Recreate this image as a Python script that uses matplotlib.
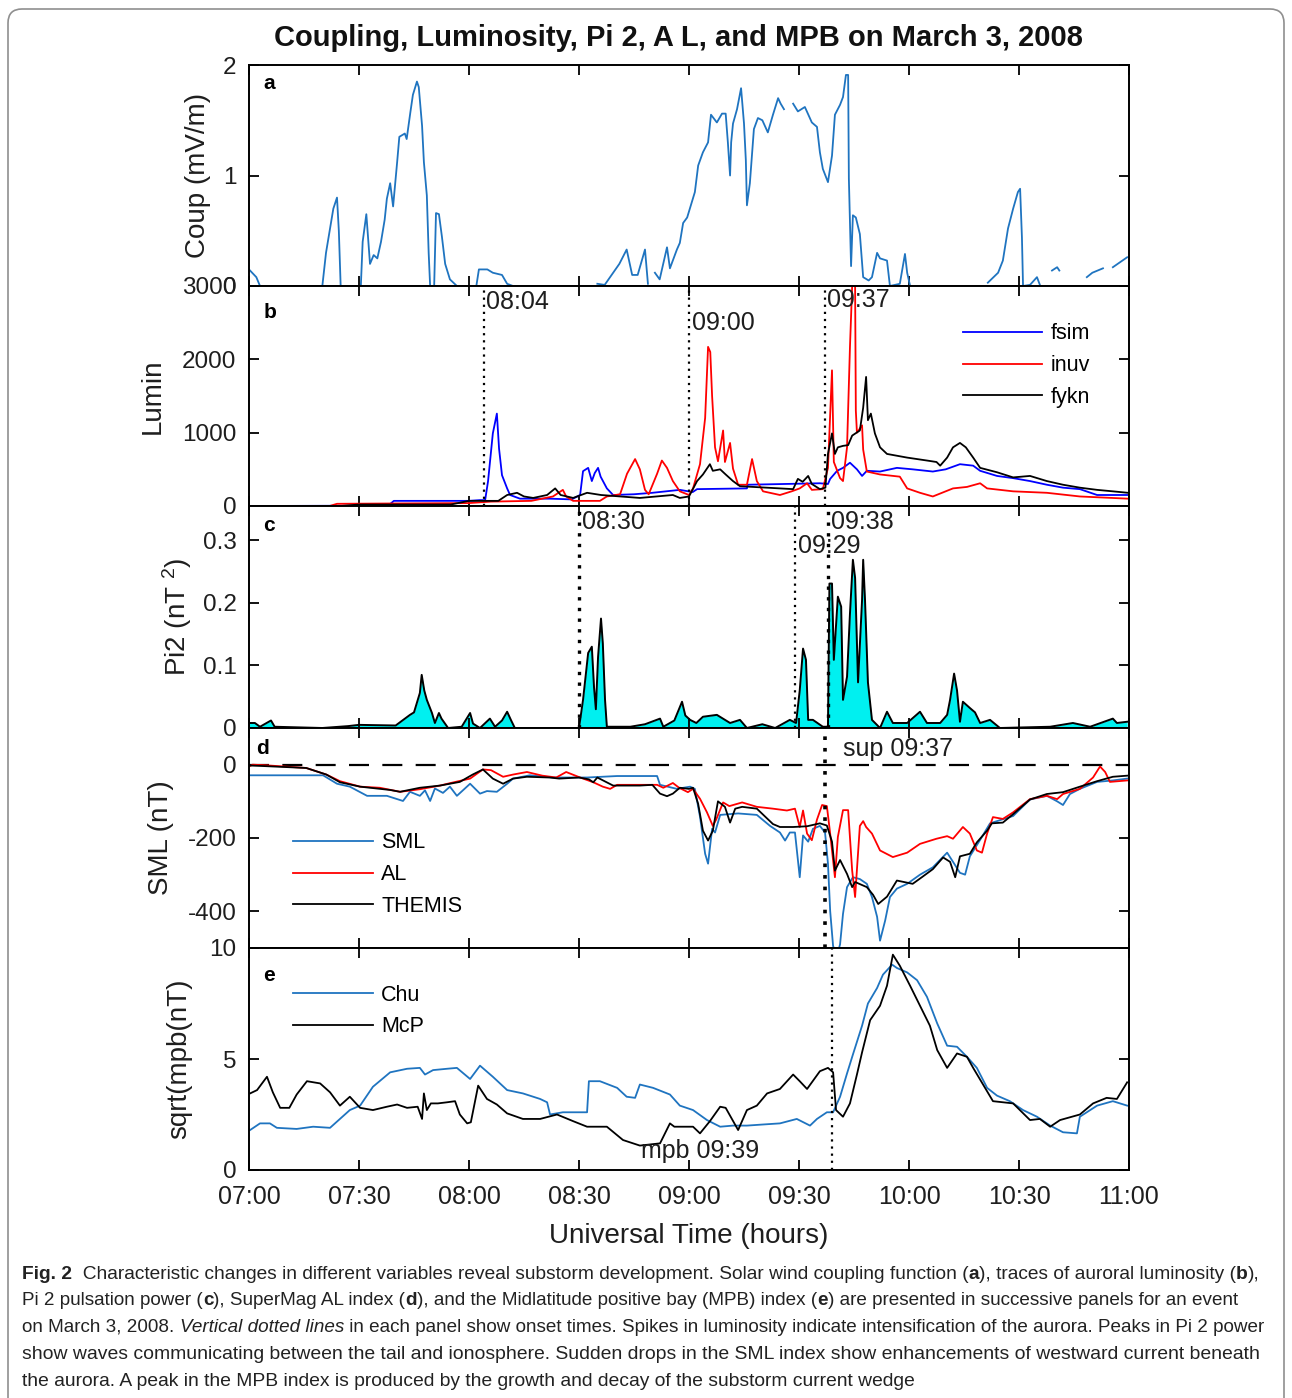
"""
plot.py
-------
Coupling, luminosity, Pi 2, AL and MPB for the substorm of March 3, 2008
(five stacked panels sharing a UT axis, with the figure caption below).

Run:
    python plot.py
"""

import numpy as np
import matplotlib
matplotlib.use("Agg")
import matplotlib.pyplot as plt
from matplotlib import font_manager
from matplotlib.font_manager import FontProperties
from matplotlib.patches import FancyBboxPatch
from matplotlib.transforms import IdentityTransform

nan = np.nan
W, H = 1292, 1398

# ---------------------------------------------------------------------------
# Data: (minutes after 07:00 UT, value)
# ---------------------------------------------------------------------------
coup_pts = [
    (0, 0.15), (2, 0.08), (3, 0), (20, 0), (21, 0.3), (23, 0.7), (24, 0.8), (24.5, 0.5),
    (25, 0), (30.5, 0), (31, 0.4), (32, 0.65), (33, 0.2), (34, 0.28), (35, 0.25), (36, 0.4),
    (37, 0.6), (37.6, 0.79), (38.5, 0.93), (39.3, 0.72), (40.4, 1.12), (41, 1.35), (42.5, 1.38),
    (43, 1.33), (44, 1.57), (44.7, 1.73), (45.8, 1.85), (46.3, 1.8), (47.2, 1.45), (47.7, 1.12),
    (48.5, 0.82), (49, 0.3), (49.4, 0), (50.5, 0), (51, 0.66), (51.8, 0.65), (52.6, 0.45),
    (53.5, 0.2), (54.8, 0.06), (56.7, 0), (62, 0), (62.7, 0.15), (65, 0.15), (66.5, 0.12),
    (69, 0.1), (70.4, 0.02), (72, 0), (87, 0), (nan, nan), (95, 0.02), (97, 0.01), (101, 0.2),
    (103, 0.33), (104.5, 0.1), (106, 0.1), (108, 0.33), (108.8, 0.02), (nan, nan), (110.7, 0.12),
    (112, 0.06), (114, 0.35), (114.8, 0.16), (116.7, 0.33), (117.5, 0.39), (118.4, 0.57),
    (119.5, 0.62), (121.6, 0.85), (122.5, 1.09), (123.8, 1.21), (125.2, 1.3), (126, 1.55),
    (127.6, 1.48), (129, 1.56), (130, 1.56), (130.6, 1.3), (131.2, 1.0), (131.5, 1.3), (132, 1.47),
    (133.1, 1.6), (134.2, 1.79), (135, 1.47), (135.5, 1.14), (135.8, 0.73), (136.6, 0.93),
    (137.7, 1.42), (138.8, 1.52), (140, 1.5), (141.5, 1.39), (142.9, 1.55), (144.3, 1.7),
    (145, 1.65), (145.9, 1.6), (nan, nan), (148.4, 1.65), (149.7, 1.58), (151.6, 1.62),
    (153.5, 1.48), (154.9, 1.44), (155.7, 1.21), (156.5, 1.06), (157.9, 0.94), (159, 1.18),
    (159.8, 1.55), (161.2, 1.64), (162, 1.71), (162.8, 1.91), (163.4, 1.91), (163.6, 0.97),
    (164.2, 0.18), (164.7, 0.64), (165.5, 0.62), (166, 0.55), (166.6, 0.47), (167.5, 0.08),
    (169, 0.05), (169.9, 0.08), (171.3, 0.3), (172.1, 0.25), (174, 0.23), (174.8, 0), (177.5, 0.02),
    (178.9, 0.29), (179.5, 0.12), (180.3, 0), (183, 0), (nan, nan), (196, 0), (198, 0), (nan, nan),
    (201.5, 0.03), (204.3, 0.12), (205.6, 0.23), (207, 0.52), (208.4, 0.7), (209.7, 0.85),
    (210.3, 0.88), (210.8, 0.44), (211.1, 0), (213, 0.01), (214.9, 0.08), (215.7, 0.01),
    (nan, nan), (219, 0.14), (220.4, 0.17), (221, 0.14), (nan, nan), (228.5, 0.08), (230, 0.12),
    (232.9, 0.16), (nan, nan), (235.6, 0.17), (239.5, 0.26),
]

fsim_pts = [
    (0, 0), (38, 5), (39.5, 70), (60, 70), (63, 80), (64.4, 80), (65.2, 340), (66.5, 990),
    (67.6, 1260), (68.2, 780), (69, 420), (70.4, 240), (71.2, 150), (73.9, 100), (82.1, 100),
    (88, 90), (90.3, 150), (91.1, 475), (92.5, 520), (93.5, 340), (94.3, 450), (95.2, 520),
    (95.9, 400), (97.6, 240), (99.3, 150), (105, 160), (110, 180), (117.5, 220), (121, 190),
    (122.2, 230), (135.8, 240), (136, 290), (155.7, 310), (157.9, 300), (158.5, 370), (160.4, 480),
    (162, 520), (163.9, 590), (165.8, 500), (167.2, 410), (168.5, 480), (172.1, 470), (176.7, 520),
    (181, 500), (186.5, 470), (190, 500), (193.9, 570), (197.5, 550), (199.4, 480), (204, 410),
    (208.4, 380), (213, 340), (217.6, 290), (222, 250), (226.6, 230), (231.3, 150), (239.7, 150),
]

inuv_pts = [
    (0, 0), (22, 0), (24, 30), (60, 40), (66, 60), (77, 70), (82.9, 130), (85.6, 220), (86.5, 130),
    (88.4, 70), (95.7, 70), (97.6, 130), (101.2, 160), (103.1, 440), (105.3, 640), (106.6, 500),
    (108, 220), (109, 160), (111.3, 440), (112.6, 620), (114, 520), (115.6, 340), (117.5, 200),
    (120, 150), (121.1, 240), (123, 570), (124.4, 1200), (125.2, 2170), (125.8, 2100),
    (126.3, 1500), (127.1, 800), (127.9, 610), (129.3, 1030), (129.8, 600), (131.2, 860),
    (132, 510), (133.4, 290), (135.8, 290), (137.2, 640), (138.5, 340), (140.2, 200), (144.8, 150),
    (148, 200), (150.2, 240), (152.2, 310), (153.5, 220), (156.5, 230), (157.9, 520), (159, 1850),
    (159.5, 600), (161.2, 380), (162, 340), (163.1, 800), (163.9, 2170), (164.5, 3000),
    (165.3, 3000), (165.5, 1300), (165.8, 1000), (167.2, 1100), (167.5, 770), (168.5, 470),
    (172.1, 430), (177.5, 400), (179.5, 240), (183, 180), (186.5, 130), (192, 240), (195.8, 260),
    (199.4, 310), (201.3, 240), (208.4, 200), (217.6, 180), (226.6, 130), (239.7, 100),
]

fykn_pts = [
    (0, 0), (25, 0), (30, 20), (55, 20), (60, 70), (68, 70), (70.4, 150), (73.1, 180), (75, 130),
    (77.5, 110), (81.3, 150), (83.5, 240), (85, 150), (88.4, 110), (92.2, 180), (96, 150),
    (106.6, 110), (115.6, 150), (117.5, 110), (120, 130), (122.2, 340), (123.8, 430), (125.7, 570),
    (126.5, 480), (128.5, 500), (130, 430), (132, 340), (133.9, 270), (148.4, 230), (149.7, 370),
    (151, 330), (152.5, 410), (153.5, 300), (155.7, 230), (157.2, 250), (157.9, 710), (159, 990),
    (159.8, 710), (160.6, 800), (162, 820), (163.4, 830), (164.5, 960), (166.6, 1030),
    (167.5, 1340), (168.3, 1760), (168.8, 1170), (169.6, 1260), (170.7, 990), (172.1, 800),
    (174, 710), (179.5, 660), (184.9, 620), (187.5, 600), (188.5, 550), (190.4, 660), (192, 800),
    (193.9, 860), (195.5, 800), (197.5, 660), (199.4, 520), (204, 460), (208.4, 390), (213, 410),
    (217.6, 340), (222, 290), (226.6, 250), (231.3, 220), (235.6, 200), (239.7, 180),
]

pi2_pts = [
    (0, 0.008), (1.6, 0.008), (3, 0.002), (6, 0.012), (7, 0.002), (20, 0), (27, 0.003), (30, 0.005),
    (40, 0.004), (43.9, 0.021), (45, 0.025), (46.6, 0.056), (47.1, 0.085), (47.8, 0.06),
    (48.5, 0.045), (49.9, 0.024), (50.7, 0.008), (51.8, 0.024), (52.5, 0.015), (54.3, 0),
    (58, 0.002), (60.3, 0.024), (61.1, 0.007), (63, 0), (65.7, 0.015), (67.1, 0.002), (69, 0.012),
    (70.4, 0.026), (71.5, 0.012), (72.5, 0), (90, 0), (91.1, 0.045), (92.5, 0.12), (93.5, 0.13),
    (94.1, 0.065), (94.6, 0.03), (95.2, 0.114), (96, 0.175), (96.5, 0.135), (97.1, 0.045),
    (97.6, 0.002), (104, 0.002), (108, 0.006), (112.1, 0.015), (113, 0.002), (116, 0.012),
    (118.1, 0.042), (119, 0.02), (120.3, 0.013), (122, 0.008), (123.8, 0.018), (127.6, 0.021),
    (131.2, 0.008), (133.9, 0.013), (135.8, 0), (140, 0.006), (143.5, 0), (147.5, 0.013),
    (149.2, 0.008), (150.2, 0.06), (151.1, 0.127), (151.9, 0.109), (152.5, 0.013), (153.8, 0.013),
    (156.5, 0.002), (157.9, 0.002), (158.3, 0.231), (159, 0.231), (159.5, 0.109), (160.6, 0.21),
    (161.5, 0.194), (162, 0.045), (163.1, 0.082), (163.9, 0.183), (164.7, 0.269), (165.3, 0.24),
    (166.1, 0.073), (167.2, 0.205), (167.5, 0.269), (168, 0.205), (168.8, 0.073), (169.9, 0.013),
    (172.1, 0), (174, 0.026), (175.6, 0.008), (179.5, 0.008), (183, 0.026), (184.9, 0.008),
    (188.5, 0.008), (190.4, 0.021), (191.2, 0.045), (192.3, 0.087), (193.1, 0.06), (193.9, 0.01),
    (194.7, 0.042), (196.6, 0.032), (198, 0.025), (199.4, 0.008), (202.1, 0.013), (204.8, 0),
    (218.5, 0.002), (224.7, 0.008), (229.4, 0.002), (235.6, 0.015), (236.7, 0.008), (239.5, 0.01),
]

sml_pts = [
    (0, -29), (20.2, -29), (24, -52), (27.5, -60), (32.2, -85), (37.6, -85), (42, -99), (43.9, -74),
    (46.6, -85), (48, -70), (49.4, -99), (50.7, -65), (52.9, -77), (54.8, -60), (56.7, -85),
    (60.3, -52), (63, -79), (64.9, -72), (67.6, -74), (70.4, -52), (72, -38), (76.6, -29),
    (82.9, -35), (92.2, -35), (100.4, -31), (111.3, -31), (112.1, -55), (116.7, -66), (120.3, -60),
    (121.6, -66), (123, -142), (124.4, -243), (125.2, -270), (126.3, -175), (127.1, -185),
    (128.5, -137), (133.4, -133), (138.5, -137), (142.1, -167), (144.8, -185), (146.2, -207),
    (147.5, -185), (148.9, -185), (150.2, -307), (151.1, -193), (152.5, -210), (153.8, -175),
    (155.7, -167), (157.1, -185), (157.9, -270), (158.5, -399), (159.3, -495), (160.4, -520),
    (161.2, -490), (162, -407), (163.1, -334), (164.7, -307), (166.6, -312), (168.5, -325),
    (169.9, -361), (171.3, -415), (172.1, -480), (173.5, -425), (174.8, -361), (176.7, -338),
    (179.5, -325), (183, -300), (186.5, -280), (190.4, -240), (192, -265), (193.9, -295),
    (195.3, -300), (196.6, -250), (199.4, -205), (202.1, -160), (208.4, -140), (213, -95),
    (217.6, -85), (220.4, -100), (222, -110), (223.9, -80), (226.6, -66), (231.3, -47),
    (235.6, -43), (239.5, -38),
]

al_pts = [
    (0, -5), (1, 0), (5, -2), (15.6, -9), (21.1, -27), (24.8, -45), (30.3, -60), (35.7, -63),
    (41.2, -74), (46.6, -67), (52.1, -57), (55, -50), (60.3, -38), (63.8, -13), (66, -15),
    (69.3, -33), (72, -27), (75.8, -20), (80, -30), (83.8, -35), (86.5, -20), (90.3, -35),
    (93.9, -48), (96.5, -60), (98.5, -66), (100.4, -55), (106.6, -55), (111.3, -55), (113, -63),
    (115.6, -50), (117.3, -63), (119.7, -75), (121.1, -66), (123, -93), (124.9, -130),
    (126.5, -167), (127.4, -150), (129.3, -103), (131, -113), (134.5, -103), (138.5, -115),
    (142.9, -120), (146.7, -125), (148.9, -120), (150.2, -170), (151.1, -125), (152.2, -188),
    (153.5, -206), (154.9, -150), (156.3, -110), (157.6, -113), (158.5, -188), (159.8, -307),
    (160.6, -197), (162, -124), (163.4, -124), (164.5, -289), (165.3, -361), (166.6, -167),
    (167.5, -154), (168.3, -170), (169.9, -188), (172.1, -234), (175.6, -252), (179.5, -240),
    (183, -216), (187.5, -202), (190.4, -195), (192, -202), (194.7, -170), (196.6, -188),
    (198.5, -234), (199.9, -240), (201.3, -188), (202.9, -143), (205.6, -148), (208.4, -130),
    (213, -94), (217.6, -85), (220.4, -94), (222, -80), (226.6, -66), (230.2, -35), (232.1, -5),
    (233.5, -20), (234.8, -47), (239.5, -43),
]

themis_pts = [
    (0, -2), (15.6, -9), (21.1, -27), (24.8, -48), (30.3, -60), (38.5, -69), (41.2, -74),
    (46.6, -63), (52.1, -57), (57.5, -47), (61, -27), (63.8, -13), (66.5, -38), (69.3, -52),
    (72, -38), (75.8, -33), (82, -35), (84.6, -38), (90, -35), (92.7, -40), (93.9, -48), (95, -35),
    (99.3, -57), (106.6, -57), (110, -55), (112.1, -79), (114, -86), (115.6, -79), (117.5, -63),
    (120, -66), (121.1, -63), (122.5, -107), (123.8, -180), (125.2, -207), (126.5, -180),
    (127.9, -100), (129.8, -115), (131.2, -158), (132.6, -120), (134.5, -115), (138.5, -120),
    (142.9, -162), (144.8, -170), (148.4, -170), (152.2, -168), (155.7, -160), (157.6, -166),
    (159, -210), (159.8, -289), (161.2, -260), (163.1, -298), (164.5, -334), (165.3, -320),
    (168.5, -334), (170.2, -355), (171.6, -380), (174, -360), (176.7, -316), (181, -325),
    (183.5, -307), (186.5, -285), (189.3, -253), (191.2, -265), (192.6, -307), (193.9, -250),
    (196.6, -243), (198.5, -212), (201.3, -180), (202.6, -160), (205.6, -158), (208.4, -135),
    (213, -95), (217.6, -80), (222, -75), (226.6, -60), (231.3, -45), (235.6, -33), (239.5, -30),
]

chu_pts = [
    (0.3, 1.8), (3, 2.1), (5.7, 2.1), (7.6, 1.9), (13, 1.85), (17.5, 1.95), (22.1, 1.9), (24.8, 2.3),
    (27.5, 2.7), (30.3, 2.9), (33.8, 3.75), (38.5, 4.4), (43.1, 4.56), (46.6, 4.6), (48, 4.3),
    (50.2, 4.5), (54, 4.56), (56.7, 4.6), (60.3, 4.1), (63, 4.7), (66.5, 4.2), (70.4, 3.6),
    (74.7, 3.45), (79.4, 3.2), (81.3, 3.05), (82.1, 2.5), (85.6, 2.6), (92.2, 2.6), (92.7, 4.0),
    (95.7, 4.0), (100.4, 3.7), (103, 3.3), (105.3, 3.25), (106.6, 3.85), (110.2, 3.7), (114.8, 3.4),
    (117.5, 2.9), (121.1, 2.7), (124.9, 2.25), (128.5, 1.95), (132, 2.0), (135.8, 2.0),
    (140.2, 2.05), (144.8, 2.1), (149.4, 2.3), (153, 2.0), (154.9, 2.3), (157.6, 2.6), (159.3, 2.6),
    (161.2, 3.3), (163.1, 4.35), (164.7, 5.2), (167.2, 6.5), (168.8, 7.5), (171.3, 8.2),
    (172.9, 8.8), (175.4, 9.25), (176.7, 9.1), (179.5, 8.9), (182.2, 8.55), (184.9, 7.8),
    (187.7, 6.6), (190.4, 5.6), (193.1, 5.55), (195.8, 5.1), (198.5, 4.6), (201.3, 3.7), (204, 3.35),
    (207.5, 3.1), (211.1, 2.7), (214.9, 2.4), (218.5, 2.0), (222, 1.7), (225.8, 1.65), (226.6, 2.4),
    (231.3, 2.9), (235.6, 3.1), (239.5, 2.9),
]

mcp_pts = [
    (0.3, 3.45), (2.2, 3.6), (4.9, 4.2), (6.5, 3.5), (8.5, 2.8), (11, 2.8), (13, 3.4), (15.8, 4.0),
    (19.4, 3.9), (22.1, 3.5), (24.8, 2.9), (27.5, 3.3), (30.3, 2.8), (33.8, 2.7), (37.6, 2.85),
    (40.4, 2.95), (43.1, 2.8), (46, 2.85), (47.2, 2.3), (47.7, 3.45), (48.5, 2.7), (49.6, 3.0),
    (51.5, 3.0), (54, 3.05), (56.2, 3.1), (57.5, 2.5), (59.5, 2.1), (60.5, 2.15), (62.5, 3.8),
    (64.9, 3.2), (67.6, 2.95), (70.4, 2.55), (74.7, 2.3), (79.4, 2.3), (84, 2.5), (88.4, 2.2),
    (92.2, 1.95), (97.6, 1.95), (102, 1.35), (106.6, 1.1), (112.1, 1.2), (114.8, 2.1), (116, 1.95),
    (121.1, 1.95), (123, 1.65), (125.7, 2.2), (128.5, 2.85), (130, 2.8), (133.4, 1.8), (135.8, 2.7),
    (138.5, 2.9), (141.3, 3.45), (144.8, 3.65), (148.4, 4.3), (150.2, 4.0), (152.2, 3.65),
    (155.7, 4.45), (157.9, 4.6), (159.3, 4.4), (160.1, 2.7), (162, 2.4), (163.9, 3.0), (165.8, 4.3),
    (167.2, 5.3), (169.4, 6.75), (172.1, 7.4), (174, 8.3), (175.6, 9.7), (177.5, 9.2), (180.3, 8.3),
    (183, 7.4), (185.7, 6.5), (187.7, 5.4), (190.4, 4.6), (193.1, 5.25), (195.8, 5.1), (197.5, 4.6),
    (200.2, 3.85), (202.9, 3.1), (208.4, 3.0), (213, 2.25), (215.7, 2.3), (218.5, 1.95),
    (221.2, 2.25), (226.6, 2.5), (230.2, 3.0), (233.9, 3.25), (236.7, 3.2), (239.5, 3.95),
]

time_ticks = ["07:00", "07:30", "08:00", "08:30", "09:00", "09:30", "10:00", "10:30", "11:00"]
pi2_ticks = ["0", "0.1", "0.2", "0.3"]
onsets_b = ["08:04", "09:00", "09:37"]
onsets_c = ["08:30", "09:29", "09:38"]
onset_d = "09:37"
onset_e = "09:39"

caption_lines = [
    [("Fig. 2", "bold", "normal"),
     ("  Characteristic changes in different variables reveal substorm development. "
      "Solar wind coupling function (", "normal", "normal"),
     ("a", "bold", "normal"), ("), traces of auroral luminosity (", "normal", "normal"),
     ("b", "bold", "normal"), ("),", "normal", "normal")],
    [("Pi 2 pulsation power (", "normal", "normal"), ("c", "bold", "normal"),
     ("), SuperMag AL index (", "normal", "normal"), ("d", "bold", "normal"),
     ("), and the Midlatitude positive bay (MPB) index (", "normal", "normal"),
     ("e", "bold", "normal"),
     (") are presented in successive panels for an event", "normal", "normal")],
    [("on March 3, 2008. ", "normal", "normal"), ("Vertical dotted lines", "normal", "italic"),
     (" in each panel show onset times. Spikes in luminosity indicate intensification of the "
      "aurora. Peaks in Pi 2 power", "normal", "normal")],
    [("show waves communicating between the tail and ionosphere. Sudden drops in the SML index "
      "show enhancements of westward current beneath", "normal", "normal")],
    [("the aurora. A peak in the MPB index is produced by the growth and decay of the "
      "substorm current wedge", "normal", "normal")],
]
# right end of each caption line in the original (pixels)
caption_ends = [1267, 1244, 1267, 1260, 919]

TXT = "#1e1e1e"
BLUE = "#1f74c0"


def hm(s):
    h, m = s.split(":")
    return int(h) + int(m) / 60.0


def series(pts):
    arr = np.array(pts, dtype=float)
    return 7 + arr[:, 0] / 60.0, arr[:, 1]


def panel(fig, top, bottom):
    return fig.add_axes([249 / W, 1 - bottom / H, 880 / W, (bottom - top) / H])


def style(ax, ylim, yticks, ylabel, ylab_x, letter, letter_xy, yticklabels=None):
    ax.set_xlim(7, 11)
    ax.set_ylim(*ylim)
    ax.set_yticks(yticks)
    if yticklabels is not None:
        ax.set_yticklabels(yticklabels)
    ax.set_xticks([hm(t) for t in time_ticks])
    ax.set_xticklabels(time_ticks)
    ax.tick_params(direction="in", length=7, width=1.3, top=True, right=True,
                   labelsize=17.5, pad=9, labelcolor=TXT)
    ax.tick_params(axis="x", labelbottom=False)
    for sp in ax.spines.values():
        sp.set_linewidth(1.4)
    ax.text(ylab_x, 0.5, ylabel, rotation=90, ha="center", va="center",
            transform=ax.transAxes, fontsize=20, color=TXT)
    ax.text(letter_xy[0], letter_xy[1], letter, transform=ax.transAxes,
            fontsize=15, fontweight="bold", ha="left", va="center")


def onset_line(ax, t, lw=1.6):
    ax.axvline(hm(t), color="black", linestyle=(0, (1, 2.2)), linewidth=lw, zorder=5)


def legend(ax, anchor, fontsize=15.5):
    ax.legend(loc="upper left", bbox_to_anchor=anchor, frameon=False, fontsize=fontsize,
              handlelength=3.7, handletextpad=0.4, labelspacing=0.5, borderpad=0,
              borderaxespad=0)


def caption(fig, family):
    """Draw the caption line by line, run by run, each line fitted to its original width."""
    renderer = fig.canvas.get_renderer()

    def adv(s, size, weight, style_):
        prop = FontProperties(family=family, size=size, weight=weight, style=style_)
        w1 = renderer.get_text_width_height_descent("X" + s + "X", prop, ismath=False)[0]
        w0 = renderer.get_text_width_height_descent("XX", prop, ismath=False)[0]
        return w1 - w0

    size0 = 12.0
    baselines = [1279, 1305, 1332, 1359, 1386]
    for runs, yb, xend in zip(caption_lines, baselines, caption_ends):
        width0 = sum(adv(s, size0, w, st) for s, w, st in runs)
        size = size0 * (xend - 22) / width0
        x = 22.0
        for s, w, st in runs:
            fig.text(x / W, 1 - yb / H, s, fontsize=size, fontweight=w, fontstyle=st,
                     family=family, color="#222222", ha="left", va="baseline")
            x += adv(s, size, w, st)


def main():
    plt.rcParams["font.family"] = ["Liberation Sans", "DejaVu Sans"]
    plt.rcParams["mathtext.default"] = "regular"
    plt.rcParams["axes.unicode_minus"] = False

    fig = plt.figure(figsize=(W / 100, H / 100), dpi=100)

    # rounded frame round the whole figure (its bottom runs off the image)
    frame = FancyBboxPatch((8, -60), 1276, 1389 + 60, boxstyle="round,pad=0,rounding_size=14",
                           transform=IdentityTransform(), facecolor="none",
                           edgecolor="#8f8f8f", linewidth=1.2)
    fig.add_artist(frame)

    fig.text(0.525, 1 - 38 / H, "Coupling, Luminosity, Pi 2, A L, and MPB on March 3, 2008",
             ha="center", va="center", fontsize=21, fontweight="bold", color="#111111")

    # a: coupling function
    ax = panel(fig, 65, 286)
    t, v = series(coup_pts)
    ax.plot(t, v, color=BLUE, lw=1.3)
    style(ax, (0, 2), [0, 1, 2], "Coup (mV/m)", -0.058, "a", (0.016, 0.915))

    # b: auroral luminosity
    ax = panel(fig, 286, 506)
    for pts, col, lab in [(fsim_pts, "#0000ff", "fsim"), (inuv_pts, "#ff0000", "inuv"),
                          (fykn_pts, "black", "fykn")]:
        t, v = series(pts)
        ax.plot(t, v, color=col, lw=1.3, label=lab)
    for on, yv in zip(onsets_b, [2780, 2500, 2810]):
        onset_line(ax, on)
        ax.text(hm(on) + 0.012, yv, on, fontsize=18, color=TXT, ha="left", va="center")
    legend(ax, (0.811, 0.83))
    style(ax, (0, 3000), [0, 1000, 2000, 3000], "Lumin", -0.109, "b", (0.016, 0.88))

    # c: Pi 2 power
    ax = panel(fig, 506, 728)
    t, v = series(pi2_pts)
    ax.fill_between(t, 0, v, color="#00f0f0", lw=0)
    ax.plot(t, v, color="black", lw=1.4)
    for on, yv, lw in zip(onsets_c, [0.33, 0.291, 0.33], [2.4, 1.6, 2.4]):
        onset_line(ax, on, lw)
        ax.text(hm(on) + 0.012, yv, on, fontsize=18, color=TXT, ha="left", va="center")
    style(ax, (0, 0.355), [0, 0.1, 0.2, 0.3], "Pi2 (nT $^2$)", -0.082, "c", (0.016, 0.91),
          yticklabels=pi2_ticks)

    # d: SML / AL / THEMIS
    ax = panel(fig, 728, 948)
    ax.axhline(0, color="black", lw=1.6, linestyle=(0, (9, 6)))
    for pts, col, lab in [(sml_pts, BLUE, "SML"), (al_pts, "#ff0000", "AL"),
                          (themis_pts, "black", "THEMIS")]:
        t, v = series(pts)
        ax.plot(t, v, color=col, lw=1.3, label=lab)
    onset_line(ax, onset_d, 2.6)
    ax.text(9.70, 44, "sup " + onset_d, fontsize=18, color=TXT, ha="left", va="center")
    legend(ax, (0.05, 0.525))
    style(ax, (-500, 100), [-400, -200, 0], "SML (nT)", -0.10, "d", (0.008, 0.905))

    # e: midlatitude positive bay
    ax = panel(fig, 948, 1170)
    for pts, col, lab in [(chu_pts, BLUE, "Chu"), (mcp_pts, "black", "McP")]:
        t, v = series(pts)
        ax.plot(t, v, color=col, lw=1.3, label=lab)
    onset_line(ax, onset_e, 1.6)
    ax.text(9.32, 0.86, "mpb " + onset_e, fontsize=18, color=TXT, ha="right", va="center")
    legend(ax, (0.05, 0.835))
    style(ax, (0, 10), [0, 5, 10], "sqrt(mpb(nT)", -0.079, "e", (0.016, 0.875))
    ax.tick_params(axis="x", labelbottom=True, labelsize=18, pad=11)
    ax.set_xlabel("Universal Time (hours)", fontsize=20, color=TXT, labelpad=10)

    names = {f.name for f in font_manager.fontManager.ttflist}
    cap_family = "Liberation Sans Narrow" if "Liberation Sans Narrow" in names else "Liberation Sans"
    caption(fig, cap_family)

    fig.savefig("out.png", dpi=100)


if __name__ == "__main__":
    main()
